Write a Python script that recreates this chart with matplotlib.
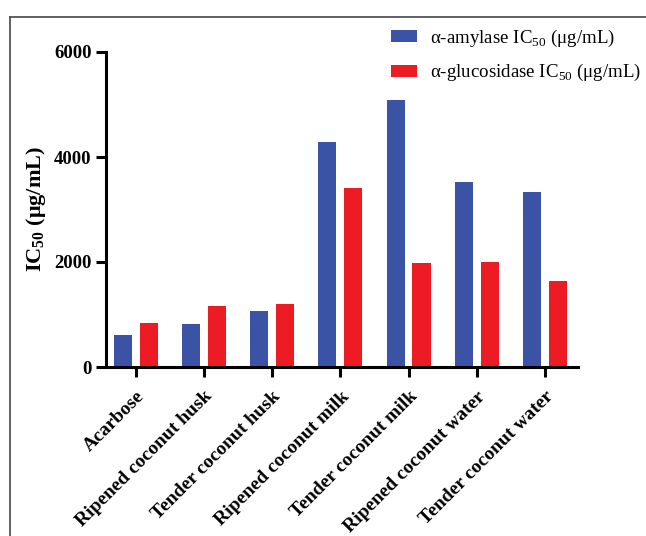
import matplotlib
matplotlib.use("Agg")
import matplotlib.pyplot as plt
from matplotlib.lines import Line2D
import numpy as np

plt.rcParams['font.family'] = ['Liberation Serif', 'DejaVu Serif']
plt.rcParams['mathtext.fontset'] = 'custom'
plt.rcParams['mathtext.rm'] = 'Liberation Serif'
plt.rcParams['mathtext.bf'] = 'Liberation Serif:bold'

categories = ["Acarbose", "Ripened coconut husk", "Tender coconut husk",
              "Ripened coconut milk", "Tender coconut milk",
              "Ripened coconut water", "Tender coconut water"]
amylase = [604, 814, 1074, 4278, 5079, 3522, 3324]
glucosidase = [833, 1163, 1196, 3414, 1983, 1997, 1634]
yticks = [0, 2000, 4000, 6000]

blue = '#3B53A4'
red = '#ED1C24'

W, H = 646, 536
fig = plt.figure(figsize=(W / 100, H / 100), dpi=100)
ax = fig.add_axes([106 / W, 1 - 367 / H, (578 - 106) / W, (367 - 52) / H])

x = np.arange(len(categories))
bw = 0.265
off = 0.19
b1 = ax.bar(x - off, amylase, bw, color=blue, label=r"α-amylase IC$_{50}$ (μg/mL)")
b2 = ax.bar(x + off, glucosidase, bw, color=red, label=r"α-glucosidase IC$_{50}$ (μg/mL)")

ax.set_xlim(-0.435, 6.484)
ax.set_ylim(0, 6000)
ax.set_yticks(yticks)
ax.set_yticklabels([str(v) for v in yticks], fontsize=13.5, fontweight='bold')
ax.set_xticks(x)
ax.set_xticklabels(categories, fontsize=14, fontweight='bold', rotation=45,
                   ha='right', va='top', rotation_mode='anchor')

for s in ['top', 'right']:
    ax.spines[s].set_visible(False)
for s in ['left', 'bottom']:
    ax.spines[s].set_linewidth(2.2)
ax.tick_params(axis='y', length=7, width=2.2, pad=3.5)
ax.tick_params(axis='x', length=7, width=2.2, pad=8)

ax.set_ylabel(r"IC$_\mathbf{50}$ (μg/mL)", fontsize=16, fontweight='bold', labelpad=4)

fig.legend(handles=[b1, b2], loc='upper left', bbox_to_anchor=(391 / W, 1 - 28 / H),
           frameon=False, fontsize=13.6, handlelength=1.35, handleheight=0.6,
           handletextpad=0.7, labelspacing=0.7, borderpad=0, borderaxespad=0)

# outer frame (partially cropped in original)
fig.add_artist(Line2D([10 / W, 10 / W], [0, 1 - 17 / H], transform=fig.transFigure,
                      color='#555555', lw=1.3))
fig.add_artist(Line2D([10 / W, 1], [1 - 17 / H, 1 - 17 / H], transform=fig.transFigure,
                      color='#555555', lw=1.3))

fig.savefig("out.png", dpi=100)
